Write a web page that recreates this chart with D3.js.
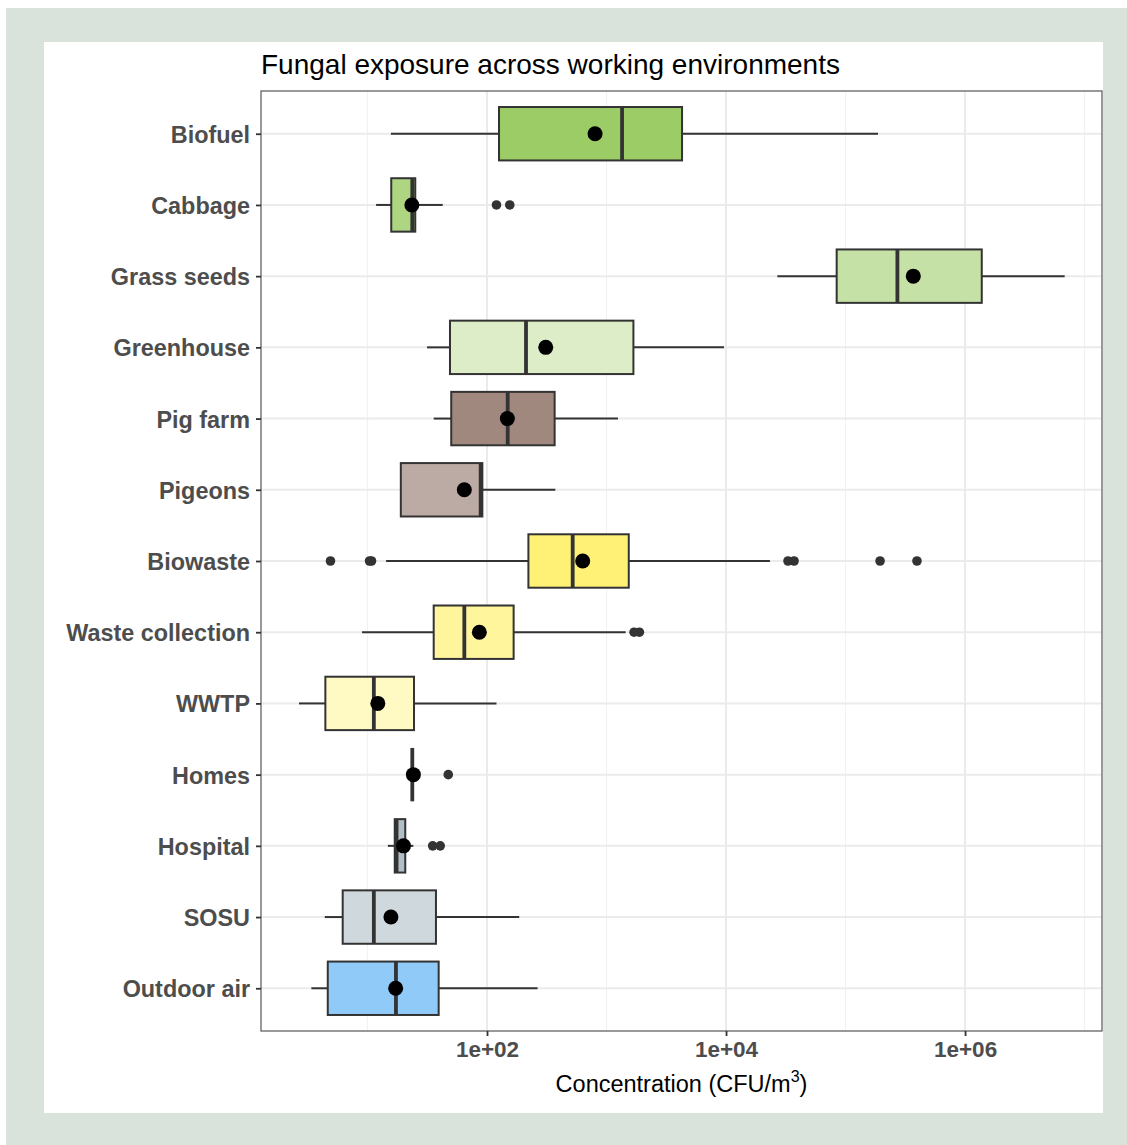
<!DOCTYPE html>
<html>
<head>
<meta charset="utf-8">
<script src="https://d3js.org/d3.v7.min.js"></script>
<style>
body { margin: 0; background: #fff; }
svg { display: block; }
text { font-family: "Liberation Sans", Arial, sans-serif; }
</style>
</head>
<body>
<script>
// CFU/m3
var categories = ["Biofuel", "Cabbage", "Grass seeds", "Greenhouse", "Pig farm", "Pigeons", "Biowaste",
  "Waste collection", "WWTP", "Homes", "Hospital", "SOSU", "Outdoor air"];
var whiskerLo = [15.7, 11.8, 26900, 31.5, 35.8, 19, 14.3, 9.0, 2.67, 23.7, 14.8, 4.39, 3.39];
var q1 =        [126, 15.8, 84300, 49, 50.2, 19, 222, 35.8, 4.44, 23.7, 16.9, 6.2, 4.65];
var medians =   [1349, 23.7, 271600, 212, 149, 88.5, 521, 64.6, 11.3, 23.7, 17.5, 11.3, 17.3];
var q3 =        [4285, 25.1, 1380000, 1679, 368, 91.4, 1535, 167, 24.5, 23.7, 20.7, 37.4, 39.4];
var whiskerHi = [187000, 42.6, 6820000, 9616, 1247, 373, 23300, 1445, 120, 23.7, 24.2, 186, 265];
var means =     [802, 23.5, 369000, 310, 148, 64.6, 632, 86.3, 12.2, 24.2, 20.0, 15.7, 17.2];
var outliers = [
  [], [120, 155], [], [], [], [],
  [4.9, 10.4, 10.8, 33000, 37100, 194500, 396000],
  [1700, 1884], [], [47.4], [35.1, 40.6], [], []
];
var fills = ["#9ccc65", "#aed581", "#c5e1a5", "#dcedc8", "#a1887f", "#bcaaa4", "#fff176",
  "#fff59d", "#fff9c4", "#e0e0e0", "#b0bec5", "#cfd8dc", "#90caf9"];
var majorTicks = [1e2, 1e4, 1e6];
var minorTicks = [1e1, 1e3, 1e5, 1e7];

var W = 1127, H = 1145;
var pLeft = 261, pRight = 1102, pTop = 91, pBottom = 1031;

var svg = d3.select("body").append("svg").attr("width", W).attr("height", H);

svg.append("rect").attr("x", 6).attr("y", 8).attr("width", W - 6).attr("height", H - 8).attr("fill", "#d9e3dc");
svg.append("rect").attr("x", 44).attr("y", 42).attr("width", 1103 - 44).attr("height", 1113 - 42).attr("fill", "#fff");

var x = d3.scaleLog().domain([Math.pow(10, 0.1088), Math.pow(10, 7.146)]).range([pLeft, pRight]);
var y = d3.scalePoint().domain(categories).range([pTop, pBottom]).padding(0.6);
var step = y.step();
var bw = step * 0.75;

var data = categories.map(function(c, i) {
  return {cat: c, lo: whiskerLo[i], q1: q1[i], med: medians[i], q3: q3[i], hi: whiskerHi[i],
    mean: means[i], out: outliers[i], fill: fills[i]};
});

// grid
var g = svg.append("g");
g.selectAll(".minor").data(minorTicks).enter().append("line")
  .attr("x1", d => x(d)).attr("x2", d => x(d)).attr("y1", pTop).attr("y2", pBottom)
  .attr("stroke", "#f2f2f2").attr("stroke-width", 1.2);
g.selectAll(".major").data(majorTicks).enter().append("line")
  .attr("x1", d => x(d)).attr("x2", d => x(d)).attr("y1", pTop).attr("y2", pBottom)
  .attr("stroke", "#ebebeb").attr("stroke-width", 2);
g.selectAll(".hgrid").data(categories).enter().append("line")
  .attr("x1", pLeft).attr("x2", pRight).attr("y1", d => y(d)).attr("y2", d => y(d))
  .attr("stroke", "#ebebeb").attr("stroke-width", 2);

// boxes
var box = svg.append("g").selectAll("g").data(data).enter().append("g");
box.append("line").attr("x1", d => x(d.lo)).attr("x2", d => x(d.q1))
  .attr("y1", d => y(d.cat)).attr("y2", d => y(d.cat)).attr("stroke", "#333").attr("stroke-width", 2);
box.append("line").attr("x1", d => x(d.q3)).attr("x2", d => x(d.hi))
  .attr("y1", d => y(d.cat)).attr("y2", d => y(d.cat)).attr("stroke", "#333").attr("stroke-width", 2);
box.append("rect").attr("x", d => x(d.q1)).attr("width", d => x(d.q3) - x(d.q1))
  .attr("y", d => y(d.cat) - bw / 2).attr("height", bw)
  .attr("fill", d => d.fill).attr("stroke", "#333").attr("stroke-width", 2);
box.append("line").attr("x1", d => x(d.med)).attr("x2", d => x(d.med))
  .attr("y1", d => y(d.cat) - bw / 2).attr("y2", d => y(d.cat) + bw / 2)
  .attr("stroke", "#333").attr("stroke-width", 3.8);
box.selectAll(".out").data(d => d.out.map(v => ({v: v, cat: d.cat}))).enter().append("circle")
  .attr("cx", d => x(d.v)).attr("cy", d => y(d.cat)).attr("r", 4.8).attr("fill", "#333");
box.append("circle").attr("cx", d => x(d.mean)).attr("cy", d => y(d.cat)).attr("r", 7.5).attr("fill", "#000");

// panel border
svg.append("rect").attr("x", pLeft).attr("y", pTop).attr("width", pRight - pLeft).attr("height", pBottom - pTop)
  .attr("fill", "none").attr("stroke", "#555").attr("stroke-width", 1.2);

// axes
var xAxis = svg.append("g").attr("transform", "translate(0," + pBottom + ")")
  .call(d3.axisBottom(x).tickValues(majorTicks).tickSize(5).tickPadding(5)
    .tickFormat(d => "1e+" + d3.format("02d")(Math.round(Math.log10(d)))));
xAxis.select(".domain").remove();
xAxis.selectAll("line").attr("stroke", "#333").attr("stroke-width", 1.8);
xAxis.selectAll("text").attr("fill", "#4d4d4d").style("font-size", "22.5px").style("font-weight", "bold")
  .style("font-family", "'Liberation Sans', Arial, sans-serif");

var yAxis = svg.append("g").attr("transform", "translate(" + pLeft + ",1)")
  .call(d3.axisLeft(y).tickSize(5).tickPadding(6));
yAxis.select(".domain").remove();
yAxis.selectAll("line").attr("stroke", "#333").attr("stroke-width", 1.8).attr("transform", "translate(0,-1)");
yAxis.selectAll("text").attr("fill", "#4d4d4d").style("font-size", "23.4px").style("font-weight", "bold")
  .style("font-family", "'Liberation Sans', Arial, sans-serif");

// titles
svg.append("text").attr("x", pLeft).attr("y", 74).attr("fill", "#000")
  .style("font-size", "28px").text("Fungal exposure across working environments");

var xt = svg.append("text").attr("x", (pLeft + pRight) / 2).attr("y", 1092).attr("text-anchor", "middle")
  .attr("fill", "#000").style("font-size", "23.5px");
xt.append("tspan").text("Concentration (CFU/m");
xt.append("tspan").attr("dy", -10).style("font-size", "16px").text("3");
xt.append("tspan").attr("dy", 10).text(")");
</script>
</body>
</html>
